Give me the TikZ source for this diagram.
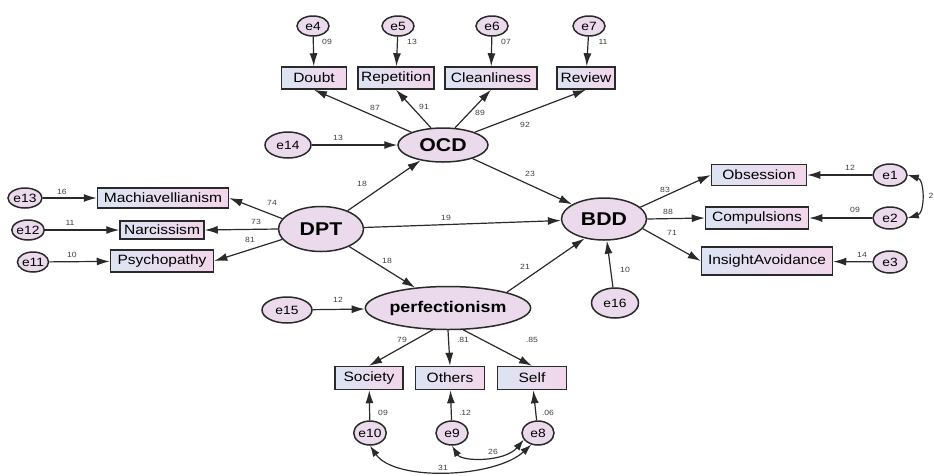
\documentclass[tikz,border=0pt]{standalone}
\usepackage{fontspec}
\setmainfont{Liberation Sans}[FakeStretch=1.15]
\usetikzlibrary{shapes.geometric,arrows.meta}
\definecolor{boxblue}{HTML}{DCE4F3}
\definecolor{boxpink}{HTML}{F3D6EA}
\definecolor{ellfill}{HTML}{EBDAEC}
\definecolor{edge}{HTML}{2A2A2A}
\begin{document}
\begin{tikzpicture}[x=1pt,y=-1pt,
  obs/.style={draw=edge, line width=1.5pt, left color=boxblue, right color=boxpink,
    inner sep=0pt, font=\fontsize{13.5}{14}\selectfont},
  lat/.style={ellipse, draw=edge, line width=1.5pt, fill=ellfill, inner sep=0pt,
    font=\fontsize{18.5}{19}\selectfont\bfseries},
  err/.style={ellipse, draw=edge, line width=1.5pt, fill=ellfill, inner sep=0pt,
    minimum width=32pt, minimum height=20pt, font=\fontsize{12}{12}\selectfont},
  pth/.style={-{Latex[length=13pt,width=8pt]}, line width=1.2pt, draw=edge},
  cov/.style={{Latex[length=11pt,width=7.5pt]}-{Latex[length=11pt,width=7.5pt]}, line width=1.2pt, draw=edge},
  coef/.style={font=\fontsize{7.5}{8}\selectfont, text=black!75, inner sep=0pt}]
\useasboundingbox (0,0) rectangle (934,475);

% ---- OCD block
\node[err] (e4) at (313,26) {e4};
\node[err] (e5) at (398,26) {e5};
\node[err] (e6) at (492,26) {e6};
\node[err] (e7) at (589,26) {e7};
\node[obs, minimum width=65pt, minimum height=22pt] (doubt) at (314,78) {Doubt};
\node[obs, minimum width=76pt, minimum height=22pt] (rep) at (396,78) {Repetition};
\node[obs, minimum width=92pt, minimum height=22pt] (clean) at (491,78) {Cleanliness};
\node[obs, minimum width=58pt, minimum height=22pt] (review) at (586,78) {Review};
\node[lat, minimum width=90pt, minimum height=34pt] (ocd) at (443,145) {OCD};
\node[err, minimum width=46pt, minimum height=26pt] (e14) at (288,145) {e14};

% ---- DPT block
\node[lat, minimum width=85pt, minimum height=45pt] (dpt) at (321,229) {DPT};
\node[obs, minimum width=131pt, minimum height=20pt] (mach) at (163,198) {Machiavellianism};
\node[obs, minimum width=84pt, minimum height=18pt] (narc) at (162,230) {Narcissism};
\node[obs, minimum width=103pt, minimum height=22pt] (psych) at (162,261) {Psychopathy};
\node[err, minimum width=34pt] (e13) at (25,198) {e13};
\node[err, minimum width=30pt] (e12) at (28,230) {e12};
\node[err, minimum width=30pt] (e11) at (33,262) {e11};

% ---- BDD block
\node[lat, minimum width=85pt, minimum height=42pt] (bdd) at (604,219) {BDD};
\node[obs, minimum width=95pt, minimum height=21pt] (obs) at (759,175) {Obsession};
\node[obs, minimum width=103pt, minimum height=22pt] (comp) at (757,218) {Compulsions};
\node[obs, minimum width=131pt, minimum height=28pt] (ins) at (767,261) {InsightAvoidance};
\node[err, minimum width=34pt, minimum height=22pt] (e1) at (890,175) {e1};
\node[err, minimum width=34pt, minimum height=22pt] (e2) at (890,218) {e2};
\node[err, minimum width=34pt, minimum height=22pt] (e3) at (890,262) {e3};
\node[err, minimum width=47pt, minimum height=30pt] (e16) at (615,303) {e16};

% ---- perfectionism block
\node[lat, minimum width=127pt, minimum height=43pt, font=\fontsize{15.5}{16}\selectfont\bfseries] (perf) at (448,308) {perfectionism};
\node[err, minimum width=50pt, minimum height=26pt] (e15) at (287,310) {e15};
\node[obs, minimum width=68pt, minimum height=23pt] (soc) at (369,378) {Society};
\node[obs, minimum width=69pt, minimum height=23pt] (oth) at (450,378) {Others};
\node[obs, minimum width=69pt, minimum height=23pt] (self) at (532,378) {Self};
\node[err, minimum width=32pt, minimum height=24pt] (e10) at (370,433) {e10};
\node[err, minimum width=32pt, minimum height=24pt] (e9) at (452,433) {e9};
\node[err, minimum width=32pt, minimum height=24pt] (e8) at (538,433) {e8};

% ---- paths
\draw[pth] (e4) -- (doubt);
\draw[pth] (e5) -- (rep);
\draw[pth] (e6) -- (clean);
\draw[pth] (e7) -- (review);
\draw[pth] (ocd.158) -- (doubt.south);
\draw[pth] (ocd.125) -- (rep.south);
\draw[pth] (ocd.55) -- (clean.south);
\draw[pth] (ocd.22) -- (review.south);
\draw[pth] (e14) -- (ocd);
\draw[pth] (dpt) -- (ocd);
\draw[pth] (dpt) -- (bdd);
\draw[pth] (dpt) -- (perf);
\draw[pth] (dpt.165) -- (mach.east);
\draw[pth] (dpt.west) -- (narc.east);
\draw[pth] (dpt.195) -- (psych.east);
\draw[pth] (e13) -- (mach);
\draw[pth] (e12) -- (narc);
\draw[pth] (e11) -- (psych);
\draw[pth] (ocd) -- (bdd);
\draw[pth] (perf.15) -- (bdd.225);
\draw[pth] (e16) -- (bdd);
\draw[pth] (bdd.18) -- (obs.west);
\draw[pth] (bdd.east) -- (comp.west);
\draw[pth] (bdd.-14) -- (ins.west);
\draw[pth] (e1) -- (obs);
\draw[pth] (e2) -- (comp);
\draw[pth] (e3) -- (ins);
\draw[pth] (e15) -- (perf);
\draw[pth] (perf.235) -- (soc.north);
\draw[pth] (perf.south) -- (oth.north);
\draw[pth] (perf.-55) -- (self.north);
\draw[pth] (e10) -- (soc);
\draw[pth] (e9) -- (oth);
\draw[pth] (e8) -- (self);

% ---- covariances
\draw[cov] (e1.east) .. controls (925,180) and (925,213) .. (e2.east);
\draw[cov] (e10.south) .. controls (395,482) and (495,478) .. (e8.240);
\draw[cov] (e9.south) .. controls (462,462) and (505,462) .. (e8.205);

% ---- coefficients
\node[coef] (c1) at (327,42) {09};
\node[coef] (c2) at (412,42) {13};
\node[coef] (c3) at (506,42) {07};
\node[coef] (c4) at (603,42) {11};
\node[coef] (c5) at (375,108) {87};
\node[coef] (c6) at (424,107) {91};
\node[coef] (c7) at (480,113) {89};
\node[coef] (c8) at (525,125) {92};
\node[coef] (c9) at (338,138) {13};
\node[coef] (c10) at (530,174) {23};
\node[coef] (c11) at (362,184) {18};
\node[coef] (c12) at (272,203) {74};
\node[coef] (c13) at (256,222) {73};
\node[coef] (c14) at (250,240) {81};
\node[coef] (c15) at (62,192) {16};
\node[coef] (c16) at (70,223) {11};
\node[coef] (c17) at (72,255) {10};
\node[coef] (c18) at (387,261) {18};
\node[coef] (c19) at (446,218) {19};
\node[coef] (c20) at (525,267) {21};
\node[coef] (c21) at (338,300) {12};
\node[coef] (c22) at (402,340) {79};
\node[coef] (c23) at (463,340) {.81};
\node[coef] (c24) at (532,340) {.85};
\node[coef] (c25) at (383,413) {09};
\node[coef] (c26) at (465,413) {.12};
\node[coef] (c27) at (548,413) {.06};
\node[coef] (c28) at (493,452) {26};
\node[coef] (c29) at (443,468) {31};
\node[coef] (c30) at (665,190) {83};
\node[coef] (c31) at (668,212) {88};
\node[coef] (c32) at (672,233) {71};
\node[coef] (c33) at (850,168) {12};
\node[coef] (c34) at (855,210) {09};
\node[coef] (c35) at (862,255) {14};
\node[coef] (c36) at (625,270) {10};
\node[coef] (c37) at (931,196) {2};
\end{tikzpicture}
\end{document}
